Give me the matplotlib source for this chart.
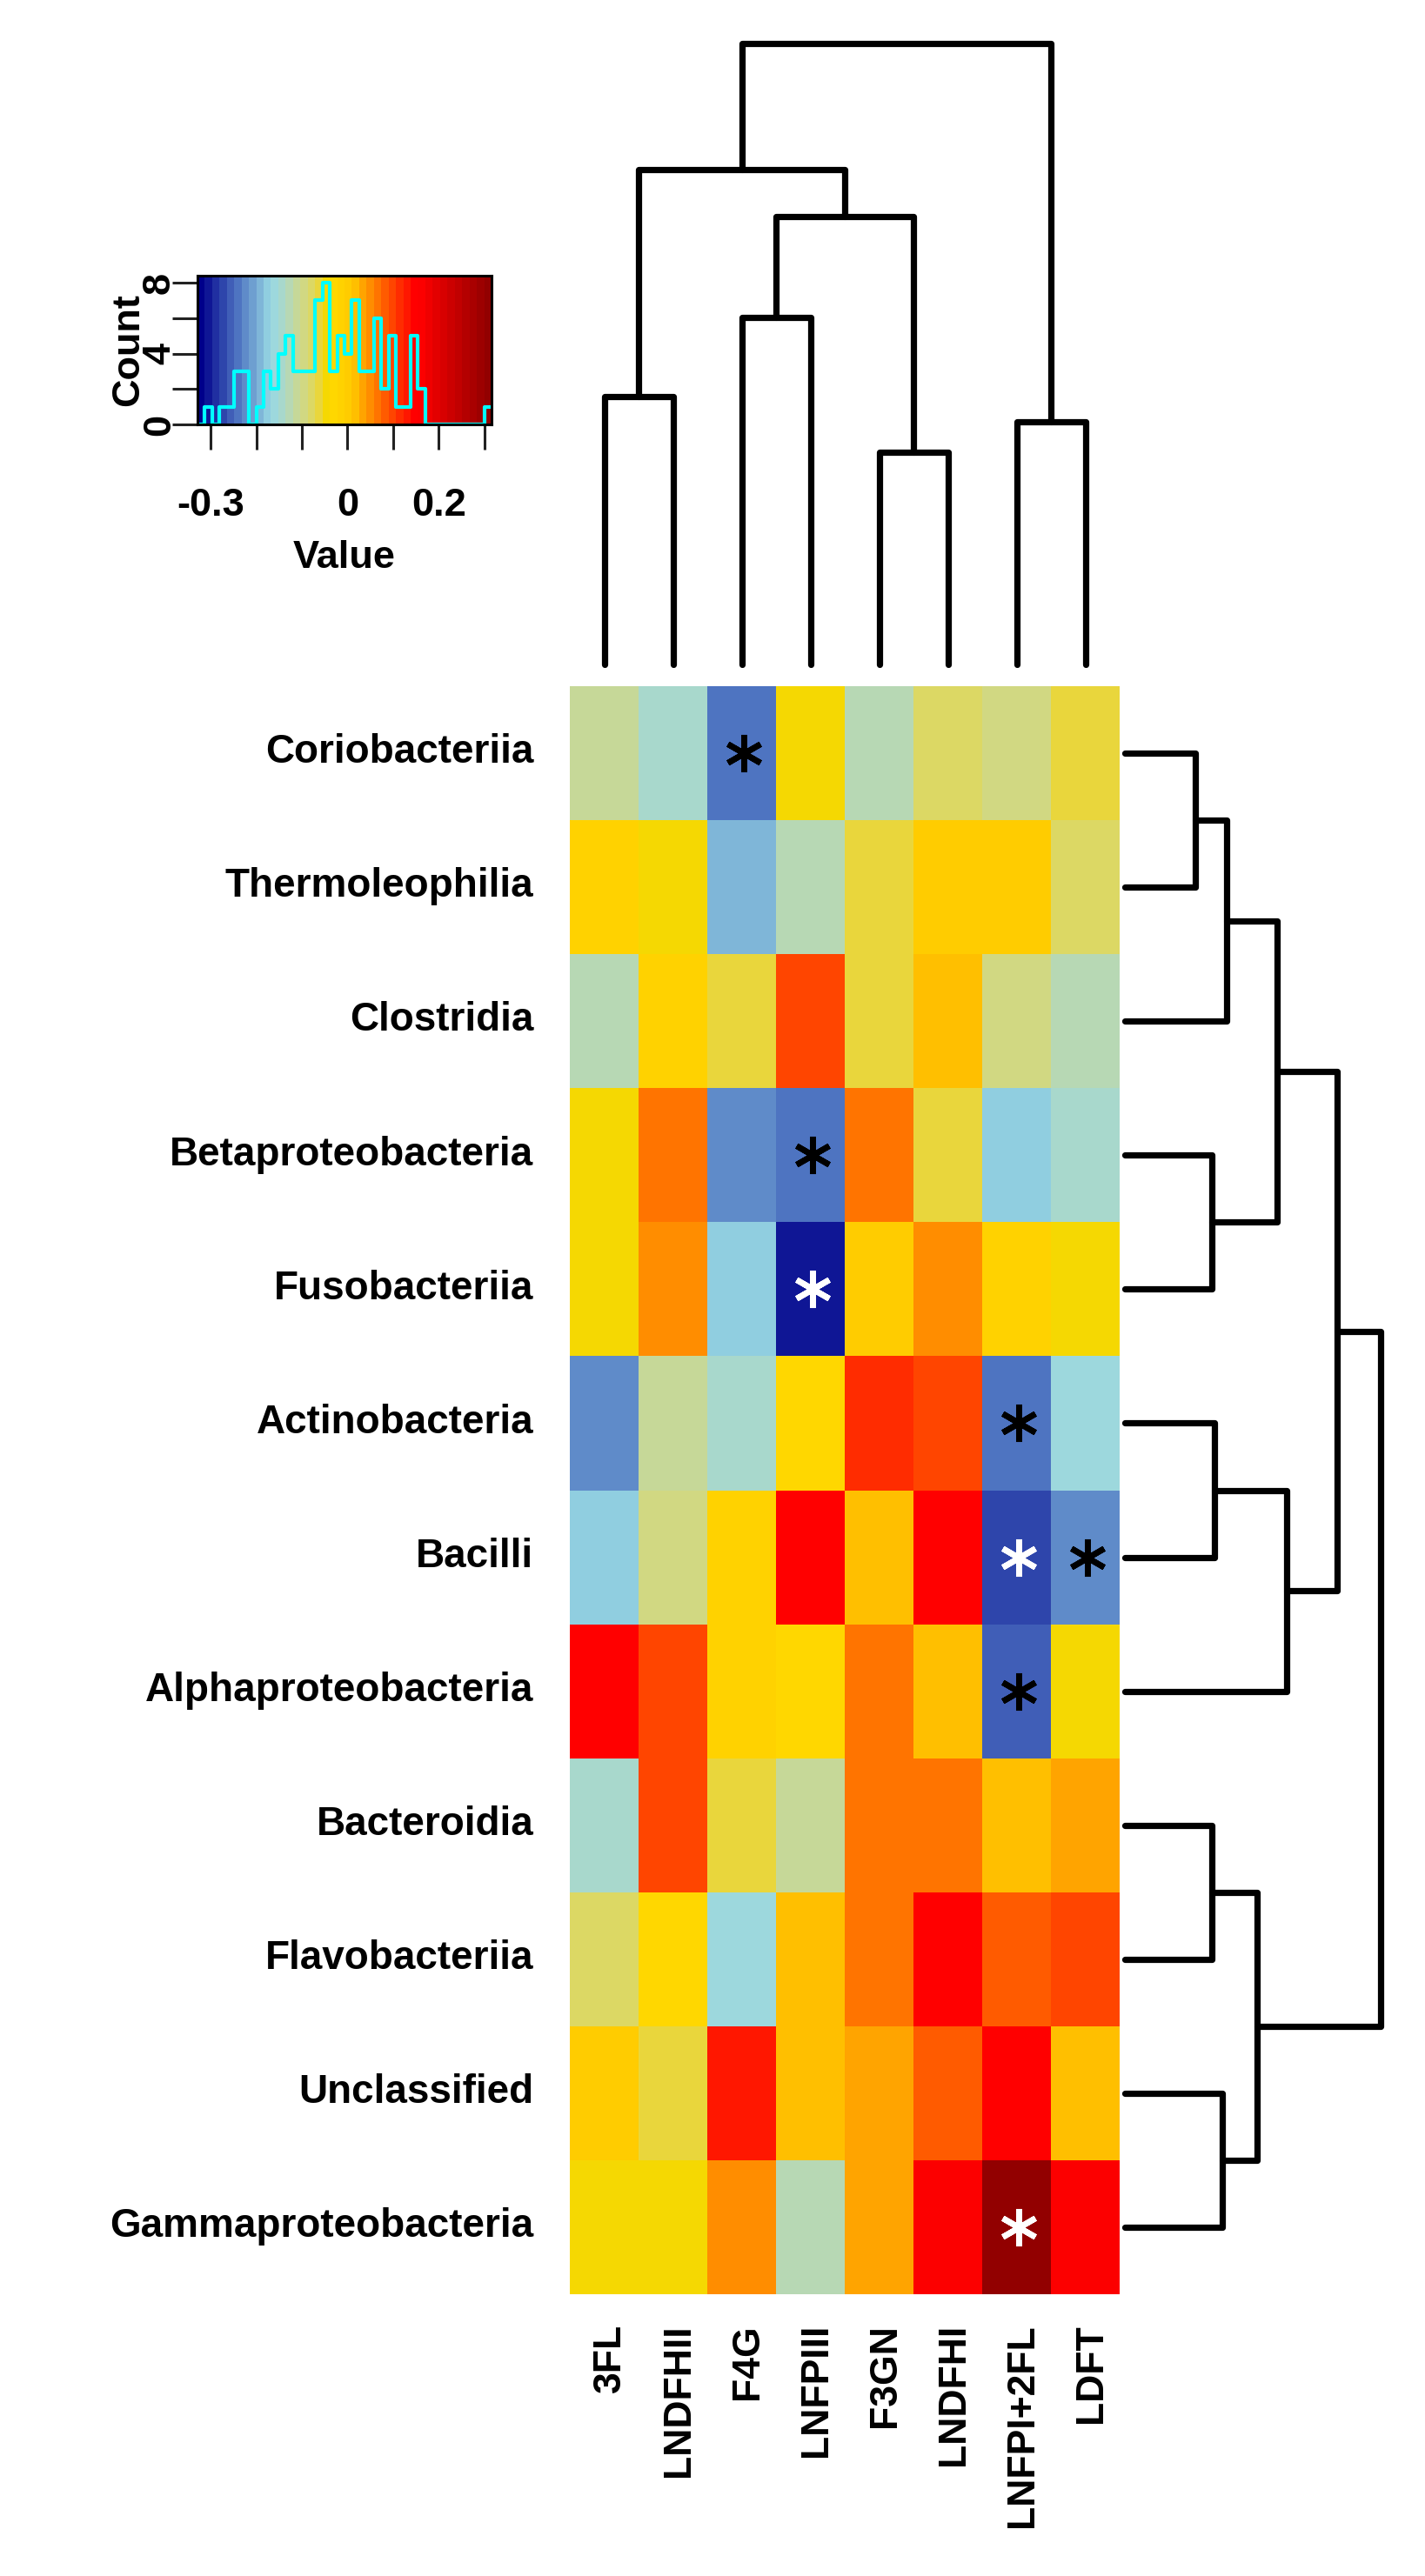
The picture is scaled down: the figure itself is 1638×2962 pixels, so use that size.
import numpy as np
import matplotlib
matplotlib.use('Agg')
import matplotlib.pyplot as plt
from matplotlib.colors import LinearSegmentedColormap, ListedColormap, BoundaryNorm

plt.rcParams['font.family'] = ['Liberation Sans', 'DejaVu Sans']
plt.rcParams['font.weight'] = 'bold'

# ---- data -------------------------------------------------------------
classes = ['Coriobacteriia', 'Thermoleophilia', 'Clostridia', 'Betaproteobacteria',
           'Fusobacteriia', 'Actinobacteria', 'Bacilli', 'Alphaproteobacteria',
           'Bacteroidia', 'Flavobacteriia', 'Unclassified', 'Gammaproteobacteria']
oligos = ['3FL', 'LNDFHII', 'F4G', 'LNFPIII', 'F3GN', 'LNDFHI', 'LNFPI+2FL', 'LDFT']

corr = np.array([
    [-0.111, -0.144, -0.240, -0.047, -0.127, -0.079, -0.095, -0.063],
    [-0.015, -0.047, -0.192, -0.127, -0.063,  0.002,  0.002, -0.079],
    [-0.127, -0.015, -0.063,  0.098, -0.063,  0.018, -0.095, -0.127],
    [-0.047,  0.066, -0.224, -0.240,  0.066, -0.063, -0.176, -0.144],
    [-0.047,  0.050, -0.176, -0.305,  0.002,  0.050, -0.015, -0.047],
    [-0.224, -0.111, -0.144, -0.031,  0.115,  0.098, -0.240, -0.160],
    [-0.176, -0.095, -0.015,  0.147,  0.018,  0.147, -0.272, -0.224],
    [ 0.147,  0.098, -0.015, -0.031,  0.066,  0.018, -0.256, -0.047],
    [-0.144,  0.098, -0.063, -0.111,  0.066,  0.066,  0.018,  0.034],
    [-0.079, -0.031, -0.160,  0.018,  0.066,  0.147,  0.082,  0.098],
    [ 0.002, -0.063,  0.131,  0.018,  0.034,  0.082,  0.147,  0.018],
    [-0.047, -0.047,  0.050, -0.127,  0.034,  0.163,  0.310,  0.163],
])

# significant cells: (row, column, asterisk colour)
stars = [(0, 2, 'black'), (3, 3, 'black'), (4, 3, 'white'), (5, 6, 'black'),
         (6, 6, 'white'), (6, 7, 'black'), (7, 6, 'black'), (11, 6, 'white')]

# dendrograms: (left child, right child, height); children >= n are earlier merges
col_merges = [(0, 1, 308), (2, 3, 399), (4, 5, 244), (6, 7, 279),
              (9, 10, 515), (8, 12, 569), (13, 11, 714)]
row_merges = [(0, 1, 81), (12, 2, 117), (3, 4, 100), (13, 14, 175),
              (5, 6, 103), (16, 7, 186), (15, 17, 244), (8, 9, 100),
              (10, 11, 112), (19, 20, 152), (18, 21, 294)]

key_min, key_max = -0.329, 0.316
n_colors = 40
key_ticks = [-0.3, -0.2, -0.1, 0.0, 0.1, 0.2, 0.3]
key_labels = {-0.3: '-0.3', 0.0: '0', 0.2: '0.2'}
count_ticks = [0, 2, 4, 6, 8]
count_labels = {0: '0', 4: '4', 8: '8'}

# ---- colours: ramp anchors given as (colour index, colour) ----------------
anchors = [(0, '#00008B'), (5, '#5076C2'), (9.5, '#98D8E4'), (11, '#A8D8CC'),
           (12, '#B8D8B2'), (13, '#C6D898'), (14, '#D2D880'), (15, '#DCD864'),
           (16, '#E8D640'), (17, '#F5D800'), (18, '#FFD700'), (20, '#FFCD00'),
           (21, '#FFBE00'), (22, '#FFA500'), (23, '#FF8C00'), (26, '#FF4500'),
           (29, '#FF0000'), (30, '#FC0000'), (39, '#920000')]
ramp = LinearSegmentedColormap.from_list(
    'key', [(k / (n_colors - 1), c) for k, c in anchors])
cmap = ListedColormap(ramp(np.linspace(0, 1, n_colors)))
breaks = np.linspace(key_min, key_max, n_colors + 1)
norm = BoundaryNorm(breaks, n_colors)

# ---- layout (pixel boxes) ---------------------------------------------
W, H = 1638, 2962
fig = plt.figure(figsize=(W / 100, H / 100), dpi=100)


def px_axes(x0, y0, x1, y1):
    return fig.add_axes([x0 / W, 1 - y1 / H, (x1 - x0) / W, (y1 - y0) / H])


LW = 5.2
ROW_FS = 33
COL_FS = 32
KFS = 32.5

# heatmap
hm = px_axes(655, 789, 1287, 2638)
hm.pcolormesh(np.arange(len(oligos) + 1), np.arange(len(classes) + 1), corr,
              cmap=cmap, norm=norm, edgecolors='face', linewidth=0)
hm.set_xlim(0, len(oligos))
hm.set_ylim(len(classes), 0)
hm.axis('off')

for i, name in enumerate(classes):
    hm.text(-0.53, i + 0.573, name, ha='right', va='baseline', fontsize=ROW_FS,
            fontweight='bold', clip_on=False)
for j, name in enumerate(oligos):
    hm.text(j + 0.74, 12.22, name, rotation=90, rotation_mode='anchor',
            ha='right', va='baseline', fontsize=COL_FS, fontweight='bold',
            clip_on=False)
for r, c, col in stars:
    hm.plot(c + 0.53, r + 0.5, marker=(6, 2, 0), ms=31, mew=4.8, color=col,
            linestyle='none')


def draw_dendro(ax, merges, n, vertical):
    pos = {i: i + 0.5 for i in range(n)}
    hgt = {i: 0.0 for i in range(n)}
    for k, (a, b, h) in enumerate(merges):
        xs = [pos[a], pos[a], pos[b], pos[b]]
        ys = [hgt[a], h, h, hgt[b]]
        if vertical:
            ax.plot(xs, ys, color='black', lw=LW, solid_capstyle='round',
                    solid_joinstyle='round', clip_on=False)
        else:
            ax.plot(ys, xs, color='black', lw=LW, solid_capstyle='round',
                    solid_joinstyle='round', clip_on=False)
        pos[n + k] = (pos[a] + pos[b]) / 2
        hgt[n + k] = h


cd = px_axes(655, 49.5, 1287, 764)
draw_dendro(cd, col_merges, len(oligos), True)
cd.set_xlim(0, len(oligos))
cd.set_ylim(0, col_merges[-1][2])
cd.axis('off')

rd = px_axes(1293, 789, 1587, 2638)
draw_dendro(rd, row_merges, len(classes), False)
rd.set_xlim(0, row_merges[-1][2])
rd.set_ylim(len(classes), 0)
rd.axis('off')

# ---- colour key with histogram ------------------------------------------
counts = np.histogram(corr.ravel(), bins=breaks)[0]
ytop = counts.max() / 0.95

key = px_axes(227, 316.5, 565, 488)
centers = (breaks[:-1] + breaks[1:]) / 2
key.pcolormesh(breaks, [0, ytop], centers[None, :], cmap=cmap, norm=norm,
               edgecolors='face', linewidth=0)
key.plot(breaks, np.append(counts, counts[-1]), drawstyle='steps-post',
         color='#00FFFF', lw=3.0)
key.set_xlim(key_min, key_max)
key.set_ylim(0, ytop)
for s in key.spines.values():
    s.set_linewidth(2.2)
key.set_xticks(key_ticks, labels=[''] * len(key_ticks))
key.set_yticks(count_ticks, labels=[''] * len(count_ticks))
key.tick_params(direction='out', length=21, width=2.2, color='#222222')

for v in key_ticks:
    if v in key_labels:
        key.text(v, -0.613, key_labels[v], transform=key.get_xaxis_transform(),
                 ha='center', va='baseline', fontsize=KFS, fontweight='bold')
for c in count_ticks:
    if c in count_labels:
        key.text(-0.095, c, count_labels[c], transform=key.get_yaxis_transform(),
                 rotation=90, rotation_mode='anchor', ha='center', va='baseline',
                 fontsize=KFS, fontweight='bold')
key.text(0.5, -0.96, 'Value', transform=key.transAxes, ha='center',
         va='baseline', fontsize=KFS, fontweight='bold')
key.text(-0.2, 0.5, 'Count', transform=key.transAxes, rotation=90,
         rotation_mode='anchor', ha='center', va='baseline', fontsize=KFS,
         fontweight='bold')

fig.savefig('out.png', dpi=100)
plt.close(fig)
